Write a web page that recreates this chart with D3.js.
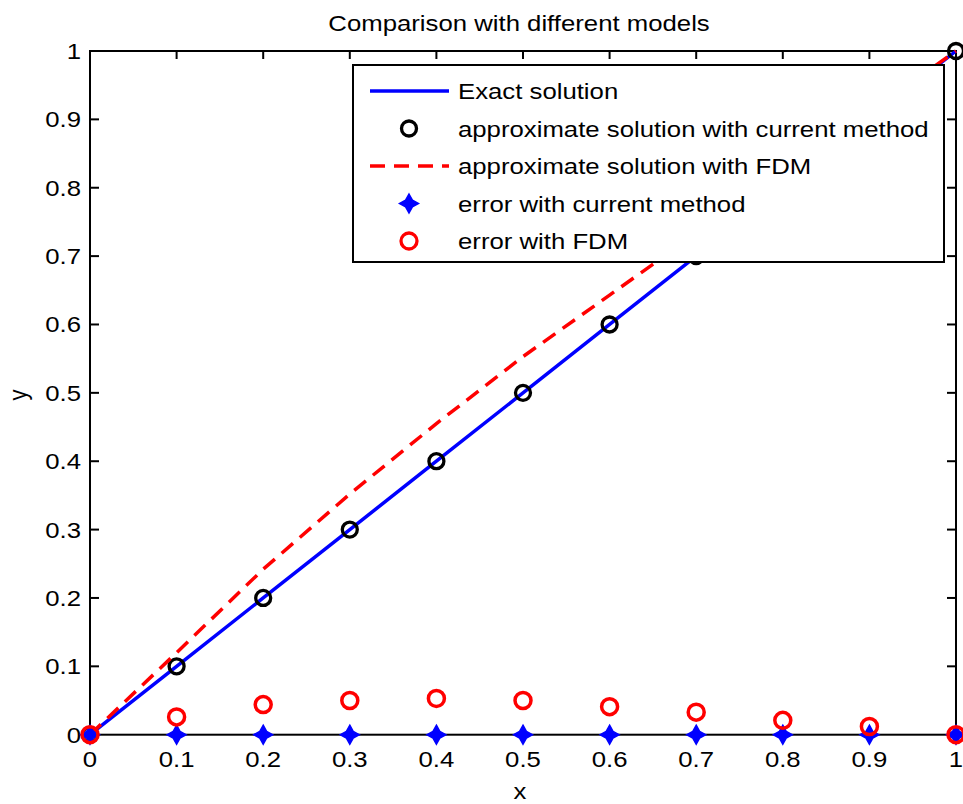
<!DOCTYPE html>
<html>
<head>
<meta charset="utf-8">
<script src="https://cdn.jsdelivr.net/npm/d3@7"></script>
<style>
  body { margin: 0; background: #fff; }
  text { font-family: "Liberation Sans", Arial, sans-serif; fill: #000; }
</style>
</head>
<body>
<svg id="chart" width="963" height="804"></svg>
<script>
// values
let xs = [0, 0.1, 0.2, 0.3, 0.4, 0.5, 0.6, 0.7, 0.8, 0.9, 1]
let exact = [0, 0.1, 0.2, 0.3, 0.4, 0.5, 0.6, 0.7, 0.8, 0.9, 1]
let approxCurrent = [0, 0.1, 0.2, 0.3, 0.4, 0.5, 0.6, 0.7, 0.8, 0.9, 1]
let approxFDM = [0, 0.12, 0.242, 0.352, 0.455, 0.553, 0.643, 0.733, 0.82, 0.91, 1]
let errCurrent = [0, 0, 0, 0, 0, 0, 0, 0, 0, 0, 0]
let errFDM = [0, 0.026, 0.044, 0.05, 0.053, 0.05, 0.041, 0.033, 0.021, 0.012, 0]
let xTicks = [0, 0.1, 0.2, 0.3, 0.4, 0.5, 0.6, 0.7, 0.8, 0.9, 1]
let yTicks = [0, 0.1, 0.2, 0.3, 0.4, 0.5, 0.6, 0.7, 0.8, 0.9, 1]
let legendLabels = ['Exact solution', 'approximate solution with current method',
    'approximate solution with FDM', 'error with current method', 'error with FDM']

let svg = d3.select('svg')
let fs = 22, sx = 1.17  // picture is stretched a bit sideways

let x = d3.scaleLinear().domain([0, 1]).range([90, 956])
let y = d3.scaleLinear().domain([0, 1]).range([734.7, 51])

// helper: stretched text
let txt = (g, s, tx, ty, anchor) => g.append('text')
    .attr('transform', `translate(${tx},${ty}) scale(${sx},1)`)
    .attr('text-anchor', anchor || 'start')
    .style('font-size', fs + 'px')
    .text(s)

// axes box + inward ticks
let ax = svg.append('g')
ax.append('rect')
    .attr('x', x(0)).attr('y', y(1))
    .attr('width', x(1) - x(0)).attr('height', y(0) - y(1))
    .attr('fill', 'none').attr('stroke', '#000').attr('stroke-width', 2)

xTicks.forEach(t => {
    ax.append('line').attr('x1', x(t)).attr('x2', x(t)).attr('y1', y(0)).attr('y2', y(0) - 8)
        .attr('stroke', '#000').attr('stroke-width', 2)
    ax.append('line').attr('x1', x(t)).attr('x2', x(t)).attr('y1', y(1)).attr('y2', y(1) + 8)
        .attr('stroke', '#000').attr('stroke-width', 2)
    txt(ax, d3.format('~g')(t), x(t), 767, 'middle')
})
yTicks.forEach(t => {
    ax.append('line').attr('x1', x(0)).attr('x2', x(0) + 9).attr('y1', y(t)).attr('y2', y(t))
        .attr('stroke', '#000').attr('stroke-width', 2)
    ax.append('line').attr('x1', x(1)).attr('x2', x(1) - 9).attr('y1', y(t)).attr('y2', y(t))
        .attr('stroke', '#000').attr('stroke-width', 2)
    txt(ax, d3.format('~g')(t), 81, y(t) + 8, 'end')
})

// titles
txt(svg, 'Comparison with different models', 519, 31, 'middle')
txt(svg, 'x', 520, 799, 'middle')
svg.append('text')
    .attr('transform', `translate(27,395) rotate(-90) scale(1,${sx})`)
    .attr('text-anchor', 'middle')
    .style('font-size', fs + 'px')
    .text('y')

let line = d3.line().x((d, i) => x(xs[i])).y(d => y(d))

// matlab-ish fat asterisk
let starPath = 'M0,-9.5 L3.4,-3.4 L9.5,0 L3.4,3.4 L0,9.5 L-3.4,3.4 L-9.5,0 L-3.4,-3.4 Z'

// series
let plot = svg.append('g')
plot.append('path').datum(exact).attr('d', line)
    .attr('fill', 'none').attr('stroke', '#0000ff').attr('stroke-width', 3.5)

plot.selectAll('.approx').data(approxCurrent).enter().append('circle')
    .attr('class', 'approx')
    .attr('cx', (d, i) => x(xs[i])).attr('cy', d => y(d)).attr('r', 7.5)
    .attr('fill', 'none').attr('stroke', '#000').attr('stroke-width', 3.3)

plot.append('path').datum(approxFDM).attr('d', line)
    .attr('fill', 'none').attr('stroke', '#ff0000').attr('stroke-width', 3.5)
    .attr('stroke-dasharray', '15,9')

plot.selectAll('.errc').data(errCurrent).enter().append('path')
    .attr('class', 'errc')
    .attr('transform', (d, i) => `translate(${x(xs[i])},${y(d)})`)
    .attr('d', starPath)
    .attr('fill', '#0000ff').attr('stroke', '#0000ff').attr('stroke-width', 1.5)

plot.selectAll('.errf').data(errFDM).enter().append('circle')
    .attr('class', 'errf')
    .attr('cx', (d, i) => x(xs[i])).attr('cy', d => y(d)).attr('r', 8)
    .attr('fill', 'none').attr('stroke', '#ff0000').attr('stroke-width', 3.5)

// legend
let lg = svg.append('g')
lg.append('rect').attr('x', 353).attr('y', 65).attr('width', 591).attr('height', 197)
    .attr('fill', '#fff').attr('stroke', '#000').attr('stroke-width', 2)

let rowY = d3.scalePoint().domain(legendLabels).range([91, 241])
legendLabels.forEach((lab, i) => {
    let ry = rowY(lab)
    if (i == 0 || i == 2) {
        lg.append('line').attr('x1', 370).attr('x2', 449).attr('y1', ry).attr('y2', ry)
            .attr('stroke', i == 0 ? '#0000ff' : '#ff0000').attr('stroke-width', 3.5)
            .attr('stroke-dasharray', i == 2 ? '15,9' : null)
    } else if (i == 3) {
        lg.append('path').attr('transform', `translate(409,${ry})`).attr('d', starPath)
            .attr('fill', '#0000ff').attr('stroke', '#0000ff').attr('stroke-width', 1.5)
    } else {
        lg.append('circle').attr('cx', 409).attr('cy', ry).attr('r', i == 1 ? 7.5 : 8)
            .attr('fill', 'none').attr('stroke', i == 1 ? '#000' : '#ff0000').attr('stroke-width', 3.3)
    }
    txt(lg, lab, 458, ry + 8)
})
</script>
</body>
</html>
